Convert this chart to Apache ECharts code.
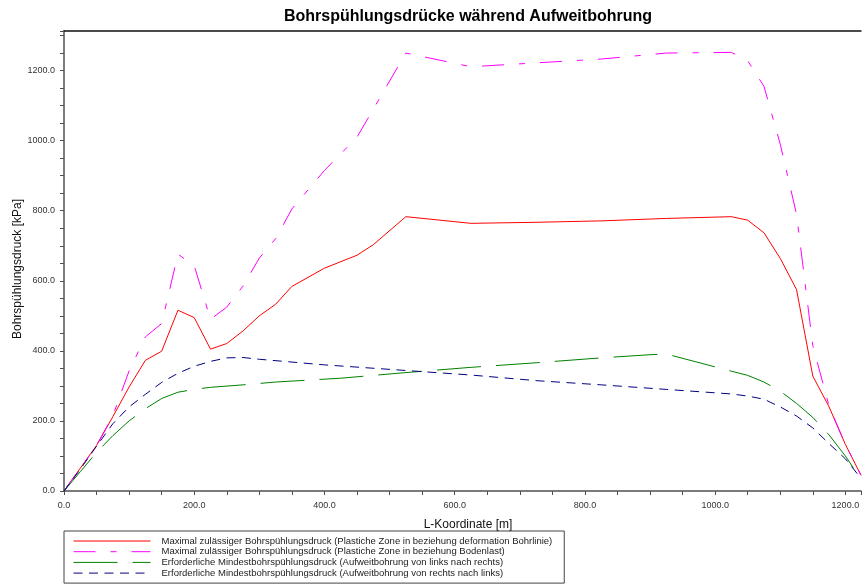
<!DOCTYPE html>
<html>
<head>
<meta charset="utf-8">
<script src="https://cdn.jsdelivr.net/npm/echarts@6/dist/echarts.min.js"></script>
<style>html,body{margin:0;padding:0;background:#fff}#c{width:864px;height:584px}</style>
</head>
<body>
<div id="c"></div>
<script>
// ---- data ----
const titleText = 'Bohrspühlungsdrücke während Aufweitbohrung';
const xAxisName = 'L-Koordinate [m]';
const yAxisName = 'Bohrspühlungsdruck [kPa]';
const seriesNames = [
  'Maximal zulässiger Bohrspühlungsdruck (Plastiche Zone in beziehung deformation Bohrlinie)',
  'Maximal zulässiger Bohrspühlungsdruck (Plastiche Zone in beziehung Bodenlast)',
  'Erforderliche Mindestbohrspühlungsdruck (Aufweitbohrung von links nach rechts)',
  'Erforderliche Mindestbohrspühlungsdruck (Aufweitbohrung von rechts nach links)'
];
const redX = [0,25,50,75,100,125,150,175,200,225,250,275,300,325,350,400,450,475,525,625,725,825,925,1025,1050,1075,1100,1125,1150,1175,1200,1224];
const redY = [0,65,130,212,297,373,399,516,495,405,421,457,500,533,584,636,673,703,783,764,767,771,778,783,773,737,664,575,328,240,133,45];
const magX = [0,25,50,75,100,125,150,175,200,225,250,275,300,325,350,400,450,475,525,625,725,825,925,1025,1050,1075,1100,1125,1150,1175,1200,1224];
const magY = [0,65,130,215,343,440,478,676,643,490,525,585,665,720,805,915,1010,1090,1250,1211,1222,1233,1250,1252,1228,1155,990,790,415,242,133,45];
const grnX = [0,25,50,75,100,125,150,175,200,225,275,325,425,525,625,725,825,900,925,1025,1050,1075,1100,1125,1150,1175,1200,1224];
const grnY = [0,55,110,158,200,235,264,282,290,296,303,311,322,338,353,366,380,389,391,342,330,311,285,250,210,160,100,33];
const bluX = [0,25,50,75,100,125,150,175,200,225,250,275,300,400,525,625,725,825,925,1025,1050,1075,1100,1125,1150,1175,1200,1224];
const bluY = [0,62,128,192,240,276,310,336,356,370,380,381,376,360,344,331,315,303,290,277,271,262,240,214,180,135,92,36];
const xTickStep = 50, labelStep = 200;

const zip = (xs, ys) => xs.map((x, i) => [x, ys[i]]);
const FONT = '"Liberation Sans", Arial, Helvetica, sans-serif';
const fmt = v => (Math.abs(v % labelStep) < 1e-6 ? v.toFixed(1) : '');

const chart = echarts.init(document.getElementById('c'), null, {renderer: 'canvas'});
const axisCommon = {
  type: 'value', min: 0, interval: xTickStep,
  axisLine: {show: true, lineStyle: {color: '#505050', width: 1.5}},
  axisTick: {show: true, length: 4, lineStyle: {color: '#505050', width: 1}},
  splitLine: {show: false},
};
chart.setOption({
  animation: false,
  backgroundColor: '#fff',
  textStyle: {fontFamily: FONT},
  grid: {left: 64, right: 0, top: 31, bottom: 93, containLabel: false},
  xAxis: [
    Object.assign({}, axisCommon, {
      max: 1224, position: 'bottom',
      axisLabel: {formatter: fmt, fontSize: 9, color: '#333', margin: 10, fontFamily: FONT}
    }),
    {type: 'value', min: 0, max: 1224, position: 'top', gridIndex: 0,
      axisLine: {show: true, onZero: false, lineStyle: {color: '#111', width: 1.5}},
      axisTick: {show: false}, axisLabel: {show: false}, splitLine: {show: false}}
  ],
  yAxis: Object.assign({}, axisCommon, {
    max: 1313,
    axisLabel: {formatter: fmt, fontSize: 9, color: '#333', margin: 9, fontFamily: FONT}
  }),
  legend: {
    orient: 'vertical', left: 64, top: 531,
    itemWidth: 77, itemHeight: 10, itemGap: 0.7,
    padding: [5, 12, 5, 9],
    borderColor: '#444', borderWidth: 1,
    selectedMode: false,
    itemStyle: {opacity: 0, color: 'transparent', borderWidth: 0},
    lineStyle: {width: 1},
    textStyle: {fontSize: 9.5, color: '#222', fontFamily: FONT, padding: [0, 0, 0, 6], lineHeight: 10},
    data: seriesNames
  },
  graphic: [
    {type: 'text', x: 468, y: 17, style: {text: titleText, fontSize: 16, fontWeight: 'bold', fontFamily: FONT, fill: '#000', align: 'center', verticalAlign: 'middle'}},
    {type: 'text', x: 468, y: 525, style: {text: xAxisName, fontSize: 12, fontFamily: FONT, fill: '#111', align: 'center', verticalAlign: 'middle'}},
    {type: 'text', x: 18, y: 269, rotation: Math.PI / 2, style: {text: yAxisName, fontSize: 12, fontFamily: FONT, fill: '#111', align: 'center', verticalAlign: 'middle'}}
  ],
  series: [
    {name: seriesNames[0], type: 'line', symbol: 'none', data: zip(redX, redY),
      itemStyle: {color: '#ff0000'}, lineStyle: {color: '#ff0000', width: 1, type: 'solid'}},
    {name: seriesNames[1], type: 'line', symbol: 'none', data: zip(magX, magY),
      itemStyle: {color: '#ff00ff'}, lineStyle: {color: '#ff00ff', width: 1, type: [22, 15, 6, 15]}},
    {name: seriesNames[2], type: 'line', symbol: 'none', data: zip(grnX, grnY),
      itemStyle: {color: '#008000'}, lineStyle: {color: '#008000', width: 1, type: [44, 15]}},
    {name: seriesNames[3], type: 'line', symbol: 'none', data: zip(bluX, bluY),
      itemStyle: {color: '#000080'}, lineStyle: {color: '#000080', width: 1, type: [9, 6.5]}}
  ]
});
</script>
</body>
</html>
